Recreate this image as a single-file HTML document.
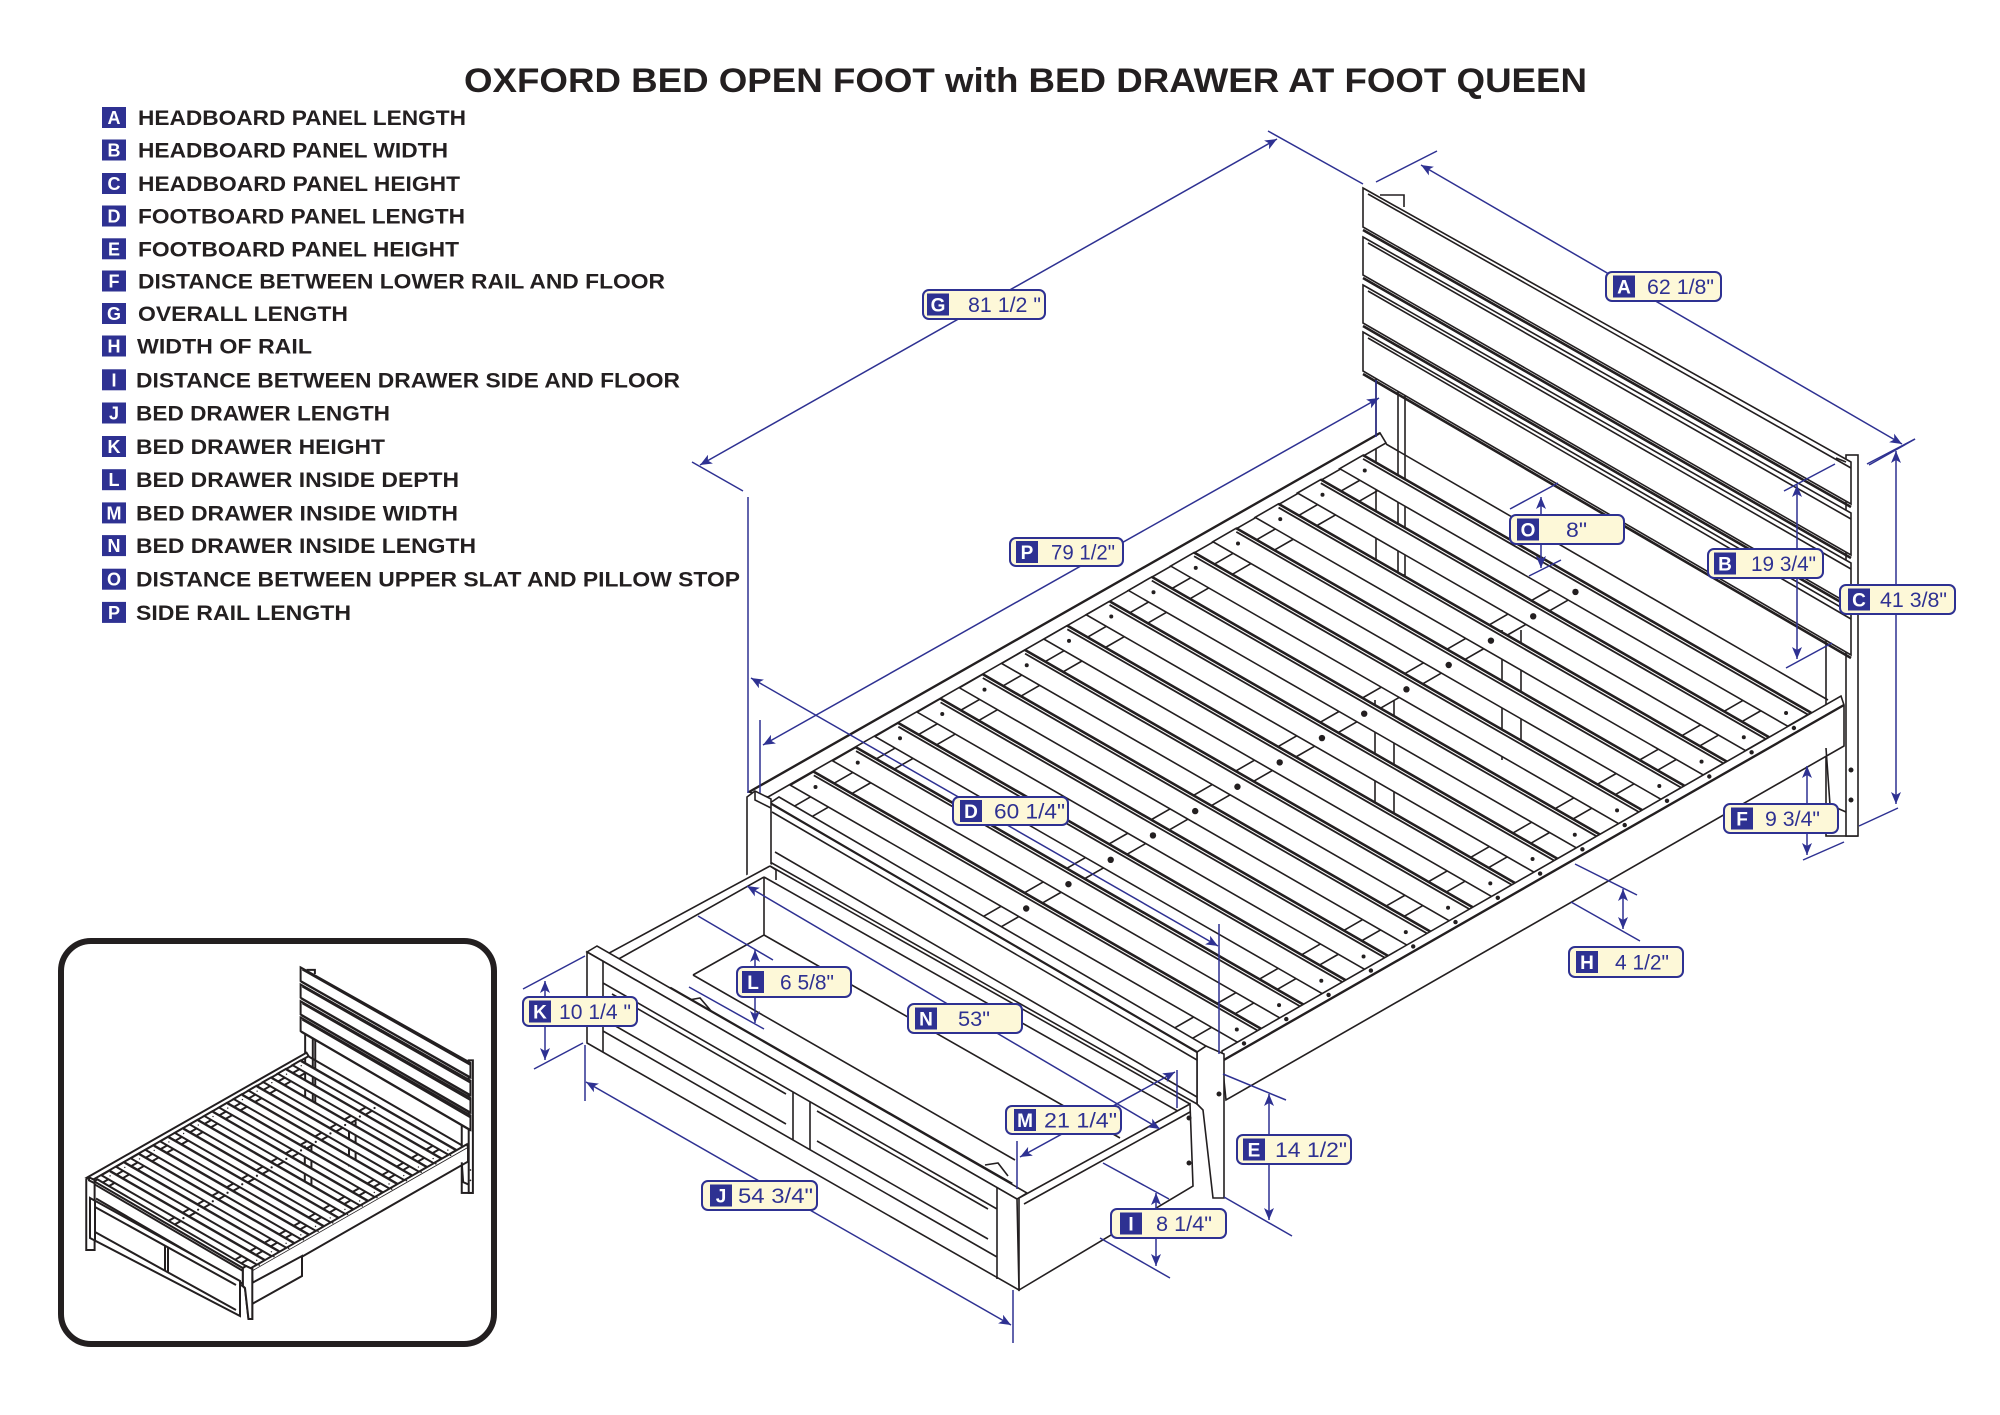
<!DOCTYPE html>
<html><head><meta charset="utf-8"><style>
html,body{margin:0;padding:0;background:#fff;}
svg{display:block;}
</style></head><body>
<svg width="2000" height="1415" viewBox="0 0 2000 1415" xmlns="http://www.w3.org/2000/svg">
<defs>
<marker id="ar" viewBox="0 0 12 10" refX="12" refY="5" markerWidth="14" markerHeight="10" markerUnits="userSpaceOnUse" orient="auto-start-reverse"><path d="M0,0 L12,5 L0,10 L3,5 z" fill="#2e3192"/></marker>

<g id="slat">
<polygon points="790.4,785.2 813.8,771.7 1261.9,1029.3 1238.5,1042.8" fill="#fff"/>
<path d="M813.8,771.7 L1261.9,1029.3" stroke-width="2.6"/>
<path d="M813.8,775.4 L1261.9,1033" stroke-width="1.8"/>
<path d="M810.6,796.8 l-18.85,10.85 M828.5,807.1 l-18.85,10.85 M1001,906.3 l-18.85,10.85 M1018.9,916.6 l-18.85,10.85 M1193.7,1017 l-18.85,10.85 M1211.6,1027.3 l-18.85,10.85"/>
<circle cx="1026.2" cy="908.5" r="3.2" fill="#231f20" stroke="none"/>
<circle cx="815.5" cy="787" r="2" fill="#231f20" stroke="none"/>
<circle cx="1236.8" cy="1029.5" r="2" fill="#231f20" stroke="none"/>
</g>

<g id="bed">
<!-- headboard left leg -->
<rect x="1376" y="365" width="29" height="210" fill="#fff"/>
<path d="M1398,365 V575"/>
<!-- headboard right leg -->
<rect x="1826" y="625" width="31" height="211" fill="#fff"/>
<rect x="1846" y="455" width="12" height="381" fill="#fff"/>
<!-- headboard slats -->
<polygon points="1363,188 1851,462 1851,504 1363,227" fill="#fff"/>
<path d="M1368,194 L1851,468"/><path d="M1363,230 L1851,507" stroke-width="2.6"/>
<polygon points="1363,237 1851,513 1851,555 1363,275" fill="#fff"/>
<path d="M1368,243 L1851,519"/><path d="M1363,278 L1851,558" stroke-width="2.6"/>
<polygon points="1363,285 1851,563 1851,605 1363,323" fill="#fff"/>
<path d="M1368,291 L1851,569"/><path d="M1363,326 L1851,608" stroke-width="2.6"/>
<polygon points="1363,332 1851,613 1851,655 1363,371" fill="#fff"/>
<path d="M1368,338 L1851,619"/><path d="M1363,374 L1851,658" stroke-width="2.6"/>
<path d="M1380,195 L1404,195 L1404,207 M1836,458 L1846,462"/>
<!-- far rail -->
<polygon points="749,792 1380,433 1386,443 768,797" fill="#fff"/>
<path d="M749,792 L1380,433" stroke-width="2.4"/>
<!-- center legs -->
<path d="M1375,700V830M1394,700V830M1502,630V760M1521,630V760"/>
<!-- head rail -->
<path d="M1386,444 L1828,700"/>
<!-- bed slats -->
<use href="#slat"/>
<use href="#slat" transform="translate(42.25,-24.35)"/>
<use href="#slat" transform="translate(84.5,-48.7)"/>
<use href="#slat" transform="translate(126.75,-73.05)"/>
<use href="#slat" transform="translate(169,-97.4)"/>
<use href="#slat" transform="translate(211.25,-121.75)"/>
<use href="#slat" transform="translate(253.5,-146.1)"/>
<use href="#slat" transform="translate(295.75,-170.45)"/>
<use href="#slat" transform="translate(338,-194.8)"/>
<use href="#slat" transform="translate(380.25,-219.15)"/>
<use href="#slat" transform="translate(422.5,-243.5)"/>
<use href="#slat" transform="translate(464.75,-267.85)"/>
<use href="#slat" transform="translate(507,-292.2)"/>
<use href="#slat" transform="translate(549.25,-316.55)"/>
<!-- near rail -->
<polygon points="1222,1051 1841,696 1844,705 1844,746 1226,1100 1222,1061" fill="#fff"/>
<path d="M1222,1061 L1844,705" stroke-width="2.4"/>
<g fill="#231f20" stroke="none">
<circle cx="1244" cy="1043.4" r="2.2"/><circle cx="1286.3" cy="1019.1" r="2.2"/><circle cx="1328.6" cy="994.9" r="2.2"/><circle cx="1370.9" cy="970.6" r="2.2"/><circle cx="1413.2" cy="946.4" r="2.2"/><circle cx="1455.5" cy="922.1" r="2.2"/><circle cx="1497.8" cy="897.8" r="2.2"/><circle cx="1540.1" cy="873.6" r="2.2"/><circle cx="1582.4" cy="849.3" r="2.2"/><circle cx="1624.7" cy="825.1" r="2.2"/><circle cx="1667" cy="800.8" r="2.2"/><circle cx="1709.3" cy="776.5" r="2.2"/><circle cx="1751.6" cy="752.3" r="2.2"/><circle cx="1793.9" cy="728" r="2.2"/>
</g>
<path d="M1826,748 L1830,805 L1846,812"/>
<circle cx="1851" cy="770" r="2.5" fill="#231f20" stroke="none"/>
<circle cx="1851" cy="800" r="2.5" fill="#231f20" stroke="none"/>
<!-- foot right post -->
<polygon points="1197,1052 1206,1046 1224,1054 1224,1198 1213,1198 1203,1110 1197,1104" fill="#fff"/>
<circle cx="1219" cy="1094" r="2.5" fill="#231f20" stroke="none"/>
<!-- footboard -->
<polygon points="770,803 779,797 1206,1046 1197,1052" fill="#fff"/>
<polygon points="770,803 1197,1052 1197,1104 770,862" fill="#fff"/>
<path d="M772,812 L1197,1060 M775,852 L1197,1097"/>
<path d="M770,803 L1197,1052" stroke-width="2.2"/>
<!-- foot left post -->
<polygon points="747,797 755,791 771,799 771,1000 747,1000" fill="#fff"/>
<path d="M755,791 L755,800 L771,808"/>
</g>
</defs>

<rect x="0" y="0" width="2000" height="1415" fill="#fff"/>

<!-- main bed -->
<use href="#bed" stroke="#231f20" stroke-width="1.6" fill="none"/>

<!-- main drawer (pulled out) -->
<g stroke="#231f20" stroke-width="1.6" fill="none">
<polygon fill="#fff" stroke="none" points="587,950 600,945 770,864 1190,1103 1194,1187 1019,1292 587,1045"/>
<path d="M600,958 L770,866 M608,965 L764,877 M770,866 L1190,1104 M764,877 L1183,1114 M764,877 L764,935 M764,935 L1120,1138 M764,935 L693,975 M693,975 L1015,1160"/>
<path d="M770,866 L776,870 L776,880" />
<path d="M670,988 L1012,1184" stroke-width="3"/>
<path d="M689,1000 L700,998 L712,1012 M985,1165 L998,1163 L1008,1176"/>
<polygon fill="#fff" points="1019,1198 1190,1104 1193,1186 1019,1290"/>
<path d="M1024,1204 L1190,1112"/>
<circle cx="1189" cy="1118" r="2.5" fill="#231f20" stroke="none"/>
<circle cx="1189" cy="1163" r="2.5" fill="#231f20" stroke="none"/>
<polygon fill="#fff" points="587,952 597,946 1027,1193 1017,1199"/>
<polygon fill="#fff" points="587,952 1017,1199 1019,1290 587,1043"/>
<path d="M603,961 L603,1052 M997,1188 L997,1279 M603,983 L997,1209 M603,1031 L997,1257 M793,1092 L793,1140 M810,1102 L810,1150"/>
<path d="M612,994 L786,1094 M612,1024 L786,1124 M817,1111 L988,1209 M817,1141 L988,1239"/>
</g>

<!-- dimension lines -->
<g stroke="#2e3192" stroke-width="1.5" fill="none">
<path d="M700,465 L1277,139" marker-start="url(#ar)" marker-end="url(#ar)"/>
<path d="M1421,165 L1902,444" marker-start="url(#ar)" marker-end="url(#ar)"/>
<path d="M763,745 L1379,398" marker-start="url(#ar)" marker-end="url(#ar)"/>
<path d="M751,678 L1218,946" marker-start="url(#ar)" marker-end="url(#ar)"/>
<path d="M1541,497 L1541,568" marker-start="url(#ar)" marker-end="url(#ar)"/>
<path d="M1797,485 L1797,659" marker-start="url(#ar)" marker-end="url(#ar)"/>
<path d="M1896,451 L1896,804" marker-start="url(#ar)" marker-end="url(#ar)"/>
<path d="M1807,766 L1807,855" marker-start="url(#ar)" marker-end="url(#ar)"/>
<path d="M1623,889 L1623,929" marker-start="url(#ar)" marker-end="url(#ar)"/>
<path d="M1269,1094 L1269,1220" marker-start="url(#ar)" marker-end="url(#ar)"/>
<path d="M1156,1193 L1156,1266" marker-start="url(#ar)" marker-end="url(#ar)"/>
<path d="M586,1082 L1011,1325" marker-start="url(#ar)" marker-end="url(#ar)"/>
<path d="M545,981 L545,1060" marker-start="url(#ar)" marker-end="url(#ar)"/>
<path d="M755,950 L755,1023" marker-start="url(#ar)" marker-end="url(#ar)"/>
<path d="M747,886 L1160,1129" marker-start="url(#ar)" marker-end="url(#ar)"/>
<path d="M1020,1157 L1175,1072" marker-start="url(#ar)" marker-end="url(#ar)"/>
<!-- extension lines -->
<path d="M692,462 L743,491 M748,497 L748,793 M1268,131 L1363,184"/>
<path d="M1376,182 L1437,151 M1867,464 L1915,439"/>
<path d="M760,720 L760,793 M1376,380 L1376,437"/>
<path d="M1219,924 L1219,1054"/>
<path d="M1510,509 L1558,483 M1529,576 L1561,560"/>
<path d="M1784,491 L1835,464 M1786,668 L1832,643"/>
<path d="M1869,465 L1915,439 M1859,826 L1898,808"/>
<path d="M1803,860 L1844,842"/>
<path d="M1575,864 L1637,895 M1571,902 L1640,941"/>
<path d="M1223,1074 L1286,1100 M1224,1197 L1292,1236"/>
<path d="M1103,1163 L1169,1199 M1100,1238 L1170,1278"/>
<path d="M585,1045 L585,1101 M1013,1290 L1013,1343"/>
<path d="M523,989 L585,956 M534,1069 L583,1043"/>
<path d="M698,916 L773,960 M689,987 L764,1029"/>
<path d="M1177,1070 L1177,1108"/>
<path d="M1017,1141 L1017,1189"/>
</g>

<!-- dimension labels -->
<g font-family="'Liberation Sans', Arial, sans-serif">
<g>
<rect x="923" y="290" width="122" height="29" rx="6" fill="#fdf8d8" stroke="#2e3192" stroke-width="2"/>
<rect x="927" y="293.5" width="22" height="22" fill="#2e3192"/>
<text x="938" y="311.5" fill="#fff" font-size="19" font-weight="bold" text-anchor="middle">G</text>
<text x="968" y="312" fill="#2e3192" font-size="21" textLength="73" lengthAdjust="spacingAndGlyphs">81 1/2 "</text>
</g>
<g>
<rect x="1606" y="272" width="115" height="29" rx="6" fill="#fdf8d8" stroke="#2e3192" stroke-width="2"/>
<rect x="1613" y="275.5" width="22" height="22" fill="#2e3192"/>
<text x="1624" y="293.5" fill="#fff" font-size="19" font-weight="bold" text-anchor="middle">A</text>
<text x="1647" y="294" fill="#2e3192" font-size="21" textLength="67" lengthAdjust="spacingAndGlyphs">62 1/8"</text>
</g>
<g>
<rect x="1510" y="515" width="114" height="29" rx="6" fill="#fdf8d8" stroke="#2e3192" stroke-width="2"/>
<rect x="1517" y="518.5" width="22" height="22" fill="#2e3192"/>
<text x="1528" y="536.5" fill="#fff" font-size="19" font-weight="bold" text-anchor="middle">O</text>
<text x="1566" y="537" fill="#2e3192" font-size="21" textLength="21" lengthAdjust="spacingAndGlyphs">8"</text>
</g>
<g>
<rect x="1708" y="549" width="115" height="29" rx="6" fill="#fdf8d8" stroke="#2e3192" stroke-width="2"/>
<rect x="1714" y="552.5" width="22" height="22" fill="#2e3192"/>
<text x="1725" y="570.5" fill="#fff" font-size="19" font-weight="bold" text-anchor="middle">B</text>
<text x="1751" y="571" fill="#2e3192" font-size="21" textLength="65" lengthAdjust="spacingAndGlyphs">19 3/4"</text>
</g>
<g>
<rect x="1840" y="585" width="115" height="29" rx="6" fill="#fdf8d8" stroke="#2e3192" stroke-width="2"/>
<rect x="1848" y="588.5" width="22" height="22" fill="#2e3192"/>
<text x="1859" y="606.5" fill="#fff" font-size="19" font-weight="bold" text-anchor="middle">C</text>
<text x="1880" y="607" fill="#2e3192" font-size="21" textLength="67" lengthAdjust="spacingAndGlyphs">41 3/8"</text>
</g>
<g>
<rect x="1010" y="538" width="113" height="28" rx="6" fill="#fdf8d8" stroke="#2e3192" stroke-width="2"/>
<rect x="1016" y="541" width="22" height="22" fill="#2e3192"/>
<text x="1027" y="559" fill="#fff" font-size="19" font-weight="bold" text-anchor="middle">P</text>
<text x="1051" y="559.5" fill="#2e3192" font-size="21" textLength="64" lengthAdjust="spacingAndGlyphs">79 1/2"</text>
</g>
<g>
<rect x="953" y="797" width="115" height="28" rx="6" fill="#fdf8d8" stroke="#2e3192" stroke-width="2"/>
<rect x="960" y="800" width="22" height="22" fill="#2e3192"/>
<text x="971" y="818" fill="#fff" font-size="19" font-weight="bold" text-anchor="middle">D</text>
<text x="994" y="818.5" fill="#2e3192" font-size="21" textLength="71" lengthAdjust="spacingAndGlyphs">60 1/4"</text>
</g>
<g>
<rect x="1724" y="804" width="114" height="29" rx="6" fill="#fdf8d8" stroke="#2e3192" stroke-width="2"/>
<rect x="1731" y="807.5" width="22" height="22" fill="#2e3192"/>
<text x="1742" y="825.5" fill="#fff" font-size="19" font-weight="bold" text-anchor="middle">F</text>
<text x="1765" y="826" fill="#2e3192" font-size="21" textLength="55" lengthAdjust="spacingAndGlyphs">9 3/4"</text>
</g>
<g>
<rect x="1569" y="947" width="114" height="30" rx="6" fill="#fdf8d8" stroke="#2e3192" stroke-width="2"/>
<rect x="1576" y="951" width="22" height="22" fill="#2e3192"/>
<text x="1587" y="969" fill="#fff" font-size="19" font-weight="bold" text-anchor="middle">H</text>
<text x="1615" y="969.5" fill="#2e3192" font-size="21" textLength="54" lengthAdjust="spacingAndGlyphs">4 1/2"</text>
</g>
<g>
<rect x="737" y="967" width="114" height="30" rx="6" fill="#fdf8d8" stroke="#2e3192" stroke-width="2"/>
<rect x="742" y="971" width="22" height="22" fill="#2e3192"/>
<text x="753" y="989" fill="#fff" font-size="19" font-weight="bold" text-anchor="middle">L</text>
<text x="780" y="989.5" fill="#2e3192" font-size="21" textLength="54" lengthAdjust="spacingAndGlyphs">6 5/8"</text>
</g>
<g>
<rect x="908" y="1004" width="114" height="29" rx="6" fill="#fdf8d8" stroke="#2e3192" stroke-width="2"/>
<rect x="915" y="1007.5" width="22" height="22" fill="#2e3192"/>
<text x="926" y="1025.5" fill="#fff" font-size="19" font-weight="bold" text-anchor="middle">N</text>
<text x="958" y="1026" fill="#2e3192" font-size="21" textLength="32" lengthAdjust="spacingAndGlyphs">53"</text>
</g>
<g>
<rect x="523" y="997" width="114" height="29" rx="6" fill="#fdf8d8" stroke="#2e3192" stroke-width="2"/>
<rect x="529" y="1000.5" width="22" height="22" fill="#2e3192"/>
<text x="540" y="1018.5" fill="#fff" font-size="19" font-weight="bold" text-anchor="middle">K</text>
<text x="559" y="1019" fill="#2e3192" font-size="21" textLength="72" lengthAdjust="spacingAndGlyphs">10 1/4 "</text>
</g>
<g>
<rect x="1006" y="1106" width="115" height="28" rx="6" fill="#fdf8d8" stroke="#2e3192" stroke-width="2"/>
<rect x="1014" y="1109" width="22" height="22" fill="#2e3192"/>
<text x="1025" y="1127" fill="#fff" font-size="19" font-weight="bold" text-anchor="middle">M</text>
<text x="1044" y="1127.5" fill="#2e3192" font-size="21" textLength="73" lengthAdjust="spacingAndGlyphs">21 1/4"</text>
</g>
<g>
<rect x="1237" y="1135" width="114" height="29" rx="6" fill="#fdf8d8" stroke="#2e3192" stroke-width="2"/>
<rect x="1243" y="1138.5" width="22" height="22" fill="#2e3192"/>
<text x="1254" y="1156.5" fill="#fff" font-size="19" font-weight="bold" text-anchor="middle">E</text>
<text x="1275" y="1157" fill="#2e3192" font-size="21" textLength="72" lengthAdjust="spacingAndGlyphs">14 1/2"</text>
</g>
<g>
<rect x="702" y="1181" width="115" height="29" rx="6" fill="#fdf8d8" stroke="#2e3192" stroke-width="2"/>
<rect x="710" y="1184.5" width="22" height="22" fill="#2e3192"/>
<text x="721" y="1202.5" fill="#fff" font-size="19" font-weight="bold" text-anchor="middle">J</text>
<text x="738" y="1203" fill="#2e3192" font-size="21" textLength="75" lengthAdjust="spacingAndGlyphs">54 3/4"</text>
</g>
<g>
<rect x="1111" y="1209" width="115" height="29" rx="6" fill="#fdf8d8" stroke="#2e3192" stroke-width="2"/>
<rect x="1120" y="1212.5" width="22" height="22" fill="#2e3192"/>
<text x="1131" y="1230.5" fill="#fff" font-size="19" font-weight="bold" text-anchor="middle">I</text>
<text x="1156" y="1231" fill="#2e3192" font-size="21" textLength="56" lengthAdjust="spacingAndGlyphs">8 1/4"</text>
</g>
</g>

<!-- title -->
<text x="464" y="92" font-family="'Liberation Sans', Arial, sans-serif" font-weight="bold" font-size="34" fill="#231f20" textLength="1123" lengthAdjust="spacingAndGlyphs">OXFORD BED OPEN FOOT with BED DRAWER AT FOOT QUEEN</text>

<!-- legend -->
<g font-family="'Liberation Sans', Arial, sans-serif" font-weight="bold">
<g fill="#2e3192">
<rect x="102" y="107" width="24" height="21"/>
<rect x="102" y="139.5" width="24" height="21"/>
<rect x="102" y="173" width="24" height="21"/>
<rect x="102" y="205.5" width="24" height="21"/>
<rect x="102" y="238.3" width="24" height="21"/>
<rect x="102" y="270.5" width="24" height="21"/>
<rect x="102" y="303" width="24" height="21"/>
<rect x="102" y="335.5" width="24" height="21"/>
<rect x="102" y="369.3" width="24" height="21"/>
<rect x="102" y="402.5" width="24" height="21"/>
<rect x="102" y="436" width="24" height="21"/>
<rect x="102" y="469.2" width="24" height="21"/>
<rect x="102" y="502.4" width="24" height="21"/>
<rect x="102" y="535.1" width="24" height="21"/>
<rect x="102" y="568.7" width="24" height="21"/>
<rect x="102" y="601.9" width="24" height="21"/>
</g>
<g fill="#fff" font-size="18" text-anchor="middle">
<text x="114" y="124">A</text>
<text x="114" y="156.5">B</text>
<text x="114" y="190">C</text>
<text x="114" y="222.5">D</text>
<text x="114" y="255.3">E</text>
<text x="114" y="287.5">F</text>
<text x="114" y="320">G</text>
<text x="114" y="352.5">H</text>
<text x="114" y="386.3">I</text>
<text x="114" y="419.5">J</text>
<text x="114" y="453">K</text>
<text x="114" y="486.2">L</text>
<text x="114" y="519.4">M</text>
<text x="114" y="552.1">N</text>
<text x="114" y="585.7">O</text>
<text x="114" y="618.9">P</text>
</g>
<g fill="#231f20" font-size="21">
<text x="138" y="124.8" textLength="328" lengthAdjust="spacingAndGlyphs">HEADBOARD PANEL LENGTH</text>
<text x="138" y="157.5" textLength="310" lengthAdjust="spacingAndGlyphs">HEADBOARD PANEL WIDTH</text>
<text x="138" y="191.2" textLength="322" lengthAdjust="spacingAndGlyphs">HEADBOARD PANEL HEIGHT</text>
<text x="138" y="223.5" textLength="327" lengthAdjust="spacingAndGlyphs">FOOTBOARD PANEL LENGTH</text>
<text x="138" y="256.3" textLength="321" lengthAdjust="spacingAndGlyphs">FOOTBOARD PANEL HEIGHT</text>
<text x="138" y="288.5" textLength="527" lengthAdjust="spacingAndGlyphs">DISTANCE BETWEEN LOWER RAIL AND FLOOR</text>
<text x="138" y="320.9" textLength="210" lengthAdjust="spacingAndGlyphs">OVERALL LENGTH</text>
<text x="137" y="353.5" textLength="175" lengthAdjust="spacingAndGlyphs">WIDTH OF RAIL</text>
<text x="136" y="387.3" textLength="544" lengthAdjust="spacingAndGlyphs">DISTANCE BETWEEN DRAWER SIDE AND FLOOR</text>
<text x="136" y="420.5" textLength="254" lengthAdjust="spacingAndGlyphs">BED DRAWER LENGTH</text>
<text x="136" y="454" textLength="249" lengthAdjust="spacingAndGlyphs">BED DRAWER HEIGHT</text>
<text x="136" y="487.2" textLength="323" lengthAdjust="spacingAndGlyphs">BED DRAWER INSIDE DEPTH</text>
<text x="136" y="520.4" textLength="322" lengthAdjust="spacingAndGlyphs">BED DRAWER INSIDE WIDTH</text>
<text x="136" y="553.1" textLength="340" lengthAdjust="spacingAndGlyphs">BED DRAWER INSIDE LENGTH</text>
<text x="136" y="586.7" textLength="604" lengthAdjust="spacingAndGlyphs">DISTANCE BETWEEN UPPER SLAT AND PILLOW STOP</text>
<text x="136" y="619.9" textLength="215" lengthAdjust="spacingAndGlyphs">SIDE RAIL LENGTH</text>
</g>
</g>

<!-- inset -->
<rect x="61" y="941" width="433" height="403" rx="30" ry="30" fill="#fff" stroke="#231f20" stroke-width="6"/>
<use href="#bed" transform="matrix(0.348,0,0,0.348,-173.7,902)" stroke="#231f20" stroke-width="5.7" fill="none"/>
<g stroke="#231f20" stroke-width="2" fill="none">
<polygon fill="#fff" points="90,1198 240,1281 240,1316 90,1238"/>
<path d="M95,1201 L95,1241 M95,1207 L236,1285 M95,1232 L236,1310 M165,1246 L165,1271 M168,1248 L168,1273"/>
<polygon fill="#fff" points="252,1283 302,1256 302,1276 252,1304"/>
<polygon fill="#fff" points="242.9,1268 246,1266 252.3,1269 252.3,1319 248.5,1319 245,1288 242.9,1286"/>
</g>
</svg>
</body></html>
